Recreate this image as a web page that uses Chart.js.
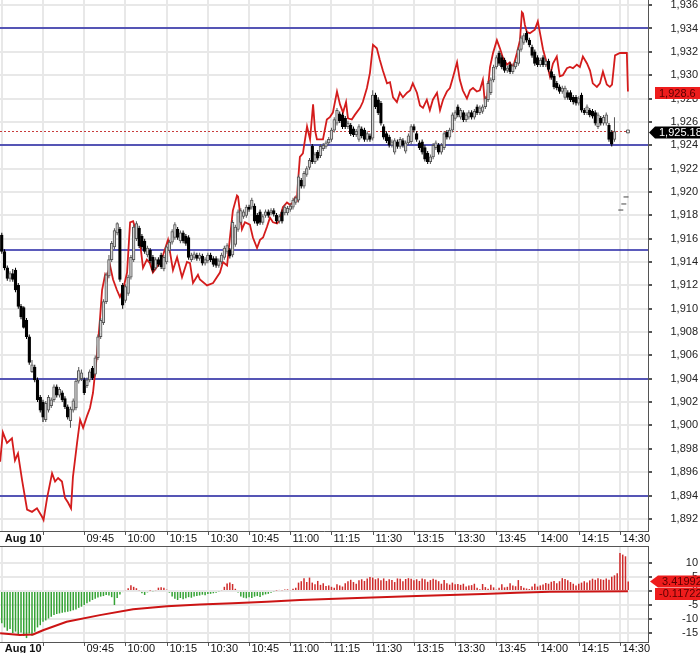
<!DOCTYPE html>
<html>
<head>
<meta charset="utf-8">
<script src="https://cdn.jsdelivr.net/npm/chart.js@4.4.0/dist/chart.umd.min.js"></script>
<style>
  html, body { margin: 0; padding: 0; background: #fff; overflow: hidden; }
  canvas { display: block; }
</style>
</head>
<body>
<canvas id="price-chart" width="700" height="546"></canvas>
<canvas id="osc-chart" width="700" height="107"></canvas>
<script>
// x values are trading minutes after 09:30 (lunch break collapsed, 13:00 = 120)
const firstMinute = -15;

// one-minute candles: [open, high, low, close]
const ohlc = [
  [1916.3,1916.5,1914.7,1914.9],[1914.9,1915.1,1913.3,1913.5],[1913.5,1913.7,1912.4,1912.6],[1912.6,1913.2,1912.3,1913.0],
  [1913.0,1913.4,1912.3,1912.5],[1913.3,1913.5,1911.4,1911.6],[1912.0,1912.2,1910.0,1910.2],[1910.2,1910.4,1909.1,1909.3],
  [1910.1,1910.2,1908.3,1908.4],[1909.0,1909.2,1907.4,1907.6],[1907.6,1907.8,1905.2,1905.4],[1904.6,1905.6,1904.5,1905.2],
  [1905.0,1905.2,1903.7,1903.9],[1903.9,1904.1,1902.0,1902.2],[1902.4,1902.6,1901.1,1901.3],
  [1902.0,1902.2,1900.3,1900.7],[1900.5,1902.1,1900.3,1901.9],[1901.3,1902.6,1901.1,1902.4],[1901.7,1902.4,1901.5,1902.2],
  [1902.2,1903.5,1902.0,1903.3],[1903.3,1903.5,1902.4,1902.6],[1902.6,1903.3,1902.4,1903.1],[1902.8,1903.0,1902.0,1902.2],
  [1902.3,1902.5,1901.4,1901.6],[1901.6,1901.8,1900.5,1900.7],[1900.4,1901.6,1899.8,1901.4],[1901.3,1902.3,1901.1,1902.1],
  [1901.5,1904.0,1901.3,1903.8],[1903.8,1905.0,1903.6,1904.7],[1904.0,1904.8,1903.8,1904.5],[1903.9,1904.1,1902.6,1902.8],
  [1903.4,1904.1,1903.2,1903.9],[1903.9,1904.8,1903.7,1904.6],[1904.9,1905.1,1903.9,1904.1],[1904.4,1906.0,1904.2,1905.8],
  [1905.8,1907.8,1905.6,1907.6],[1907.6,1909.2,1907.4,1909.0],[1908.8,1910.8,1908.6,1910.6],[1910.6,1913.1,1910.4,1912.9],
  [1912.8,1914.6,1912.6,1914.2],[1914.2,1915.8,1914.0,1915.6],[1915.3,1916.9,1915.1,1916.7],[1916.5,1917.4,1916.3,1917.3],
  [1916.8,1917.0,1912.3,1912.5],[1912.0,1912.2,1910.0,1910.3],[1910.7,1912.1,1910.5,1911.9],[1911.3,1912.9,1911.1,1912.7],
  [1912.7,1914.6,1912.5,1914.4],[1914.2,1917.2,1914.0,1917.0],[1916.0,1917.5,1915.8,1917.3],[1916.9,1917.1,1915.2,1915.4],
  [1916.2,1916.4,1915.1,1915.3],[1915.8,1916.0,1914.7,1914.9],[1914.6,1915.4,1914.4,1915.2],[1915.0,1915.2,1913.9,1914.1],
  [1914.4,1914.6,1913.1,1913.3],[1913.5,1914.4,1913.3,1914.2],[1914.2,1914.4,1913.6,1913.8],[1914.6,1914.8,1913.4,1913.6],
  [1913.4,1914.6,1913.2,1914.4],[1914.0,1915.5,1913.8,1915.3],[1915.0,1915.9,1914.8,1915.7],[1915.7,1916.8,1915.5,1916.6],
  [1916.1,1917.4,1915.9,1917.2],[1916.8,1917.0,1915.9,1916.1],[1915.8,1916.7,1915.6,1916.5],[1916.5,1916.7,1915.6,1915.8],
  [1916.2,1916.4,1915.4,1915.6],[1916.1,1916.3,1914.2,1914.4],[1914.2,1914.8,1914.0,1914.6],[1914.4,1914.9,1914.2,1914.7],
  [1914.6,1914.8,1914.1,1914.3],[1914.3,1914.8,1914.1,1914.6],[1914.5,1914.7,1913.7,1913.9],[1913.9,1914.4,1913.7,1914.2],
  [1914.1,1914.8,1913.9,1914.6],[1914.6,1914.8,1914.0,1914.2],[1914.3,1914.5,1913.6,1913.8],[1914.3,1914.5,1913.5,1913.7],
  [1913.7,1914.3,1913.5,1914.1],[1914.0,1914.8,1913.8,1914.6],[1914.4,1915.4,1914.2,1915.2],[1914.9,1915.6,1914.7,1915.4],
  [1915.0,1915.2,1914.3,1914.5],[1914.6,1917.6,1914.4,1917.4],[1915.5,1917.2,1915.3,1917.0],[1916.8,1918.5,1916.6,1918.3],
  [1917.4,1918.6,1917.2,1918.4],[1917.9,1918.5,1917.7,1918.3],[1918.0,1918.9,1917.8,1918.7],[1918.7,1918.9,1918.3,1918.5],
  [1918.7,1919.5,1918.5,1919.3],[1918.8,1919.0,1917.3,1917.5],[1918.0,1918.2,1917.1,1917.3],[1918.3,1918.5,1917.2,1917.4],
  [1917.4,1918.1,1917.2,1917.9],[1918.0,1918.5,1917.8,1918.3],[1918.3,1918.5,1917.8,1918.0],[1918.2,1918.6,1918.0,1918.4],
  [1918.4,1918.6,1917.9,1918.1],[1918.0,1918.2,1917.3,1917.5],[1917.5,1918.1,1917.3,1917.9],[1918.3,1918.5,1917.3,1917.5],
  [1918.2,1918.9,1918.0,1918.7],[1918.2,1918.8,1918.0,1918.6],[1918.5,1919.0,1918.3,1918.8],[1918.7,1919.5,1918.5,1919.3],
  [1919.1,1919.7,1918.9,1919.5],[1919.3,1921.5,1919.1,1921.3],[1921.0,1921.2,1920.3,1920.5],[1920.5,1921.8,1920.3,1921.6],
  [1921.5,1922.2,1921.3,1922.0],[1922.1,1922.9,1921.9,1922.7],[1923.9,1924.1,1922.4,1922.6],[1922.6,1923.4,1922.4,1923.2],
  [1923.4,1923.6,1922.7,1922.9],[1923.1,1924.1,1922.9,1923.9],[1923.7,1924.2,1923.5,1924.0],[1923.9,1924.4,1923.7,1924.2],
  [1924.2,1924.7,1924.0,1924.5],[1924.5,1925.5,1924.3,1925.3],[1925.3,1926.4,1925.1,1926.2],[1925.9,1927.2,1925.7,1927.0],
  [1926.7,1926.9,1925.9,1926.1],[1926.6,1926.8,1925.4,1925.6],[1926.3,1926.5,1925.4,1925.6],[1925.6,1926.1,1925.4,1925.9],
  [1925.7,1925.9,1924.8,1925.0],[1925.4,1925.6,1924.7,1924.9],[1924.9,1925.4,1924.7,1925.2],[1924.5,1925.8,1924.3,1925.6],
  [1925.4,1925.6,1924.6,1924.8],[1925.3,1925.5,1924.3,1924.5],[1924.5,1925.2,1924.3,1925.0],[1924.8,1925.0,1924.3,1924.5],
  [1924.6,1928.7,1924.4,1928.3],[1928.3,1928.5,1927.1,1927.3],[1927.9,1928.1,1926.6,1926.8],[1927.6,1927.8,1925.7,1925.9],
  [1925.6,1925.8,1924.5,1924.7],[1925.0,1925.2,1924.2,1924.4],[1924.7,1924.9,1923.8,1924.0],[1924.0,1924.5,1923.8,1924.3],
  [1923.4,1924.6,1923.2,1924.4],[1924.3,1924.5,1923.7,1923.9],[1923.9,1924.7,1923.7,1924.5],[1924.4,1924.6,1923.8,1924.0],
  [1923.5,1924.4,1923.3,1924.2],[1924.2,1925.0,1924.0,1924.8],[1924.3,1925.8,1924.1,1925.6],[1925.6,1925.8,1925.1,1925.3],
  [1925.0,1925.2,1924.3,1924.5],[1924.2,1924.4,1923.6,1923.8],[1924.3,1924.5,1923.2,1923.4],[1923.8,1924.0,1922.6,1922.8],
  [1923.3,1923.5,1922.4,1922.6],[1922.6,1923.2,1922.4,1923.0],[1923.0,1924.2,1922.8,1924.0],[1923.8,1924.4,1923.6,1924.2],
  [1924.0,1924.2,1923.2,1923.4],[1923.4,1924.2,1923.2,1924.0],[1923.8,1925.2,1923.6,1925.0],[1925.1,1925.3,1924.5,1924.7],
  [1924.7,1925.5,1924.5,1925.3],[1925.3,1926.8,1925.1,1926.6],[1926.3,1927.0,1926.1,1926.8],[1927.3,1927.5,1926.4,1926.6],
  [1926.4,1927.2,1926.2,1927.0],[1926.8,1927.0,1926.0,1926.2],[1926.2,1926.8,1926.0,1926.6],[1926.4,1927.0,1926.2,1926.8],
  [1926.8,1927.0,1926.2,1926.4],[1926.4,1927.1,1926.2,1926.9],[1927.3,1927.5,1926.6,1926.8],[1926.8,1927.4,1926.6,1927.2],
  [1926.9,1927.5,1926.7,1927.3],[1927.3,1928.2,1927.1,1928.0],[1927.9,1929.5,1927.7,1929.3],[1928.5,1929.8,1928.3,1929.6],
  [1929.6,1930.9,1929.4,1930.7],[1930.7,1931.7,1930.5,1931.5],[1931.9,1932.1,1930.8,1931.0],[1931.5,1931.7,1930.5,1930.7],
  [1931.3,1931.5,1930.2,1930.4],[1930.4,1930.8,1930.2,1930.6],[1930.9,1931.1,1930.1,1930.3],[1930.3,1931.0,1930.1,1930.8],
  [1930.7,1931.3,1930.5,1931.1],[1931.0,1932.4,1930.8,1932.2],[1932.2,1933.4,1932.0,1933.2],[1932.8,1933.6,1932.6,1933.4],
  [1933.6,1933.8,1932.8,1933.0],[1933.0,1933.2,1932.4,1932.6],[1932.4,1932.6,1931.5,1931.7],[1932.0,1932.2,1930.8,1931.0],
  [1931.5,1931.7,1930.7,1930.9],[1930.9,1931.5,1930.7,1931.3],[1931.5,1931.7,1930.7,1930.9],[1930.9,1931.4,1930.7,1931.2],
  [1931.2,1931.4,1930.3,1930.5],[1930.3,1930.5,1929.6,1929.8],[1929.9,1930.1,1928.8,1929.0],[1929.3,1929.5,1928.7,1928.9],
  [1929.0,1929.2,1928.4,1928.6],[1928.6,1929.1,1928.4,1928.9],[1928.1,1929.1,1927.9,1928.9],[1928.5,1928.7,1927.9,1928.1],
  [1928.5,1928.7,1927.7,1927.9],[1928.1,1928.3,1927.5,1927.7],[1928.1,1928.3,1927.4,1927.6],[1927.6,1928.2,1927.4,1928.0],
  [1928.3,1928.5,1926.8,1927.0],[1927.0,1927.2,1926.6,1926.8],[1926.8,1927.5,1926.6,1927.3],[1927.0,1927.2,1926.4,1926.6],
  [1926.9,1927.1,1926.3,1926.5],[1926.8,1927.0,1925.7,1925.9],[1925.6,1926.8,1925.4,1926.6],[1926.3,1926.5,1925.7,1925.9],
  [1925.9,1926.6,1925.7,1926.4],[1925.9,1926.8,1925.7,1926.6],[1925.7,1925.9,1924.3,1924.5],[1925.1,1925.3,1923.9,1924.1],
  [1924.5,1926.4,1924.3,1925.18]
];

// second instrument drawn over the candles: [minute, price]
const redLine = [
  [-15.6,1896.9],[-14.6,1899.4],[-13.1,1898.5],[-11.3,1898.9],[-10.2,1897.0],[-9.1,1897.6],[-7.6,1895.3],[-5.8,1892.8],
  [-4.0,1892.6],[-2.2,1892.9],[-0.4,1892.2],[0.2,1891.9],[1.5,1893.8],[3.3,1895.9],[4.4,1895.2],[5.5,1895.5],[6.9,1895.2],
  [8.0,1893.8],[9.1,1893.4],[10.2,1892.9],[10.9,1895.6],[12.4,1898.5],[13.5,1900.5],[14.6,1899.8],[16.0,1900.8],[17.1,1901.5],
  [18.2,1902.8],[19.7,1906.2],[20.7,1909.0],[21.5,1911.6],[22.6,1912.9],[23.3,1912.5],[23.7,1913.1],[24.4,1913.7],[25.5,1912.5],
  [26.9,1911.6],[28.0,1911.0],[29.1,1911.6],[30.6,1913.1],[31.7,1917.4],[32.8,1917.5],[34.2,1916.4],[35.3,1915.7],[36.4,1913.5],
  [37.8,1914.2],[38.9,1913.9],[40.0,1913.1],[41.5,1913.6],[42.6,1913.9],[43.7,1914.6],[45.5,1915.9],[47.3,1913.3],[48.8,1914.4],
  [50.6,1912.7],[52.4,1914.0],[53.5,1913.9],[54.6,1912.2],[56.4,1912.9],[57.1,1912.5],[59.7,1912.0],[61.9,1912.2],[64.4,1913.1],
  [65.5,1914.0],[67.0,1913.7],[68.0,1916.0],[69.1,1918.4],[70.6,1919.7],[71.0,1919.6],[72.4,1916.8],[73.5,1917.4],[75.3,1917.2],
  [76.4,1916.1],[77.9,1915.2],[79.0,1915.9],[80.1,1916.1],[81.5,1917.0],[82.6,1917.8],[83.7,1917.4],[85.2,1917.3],[86.2,1917.6],
  [87.3,1918.7],[88.8,1919.1],[89.9,1918.9],[91.0,1919.1],[91.7,1919.5],[92.4,1919.3],[92.8,1920.8],[93.5,1923.0],[94.6,1923.3],
  [96.1,1925.6],[97.2,1924.5],[98.3,1927.5],[99.0,1925.3],[99.7,1924.5],[101.9,1924.5],[103.3,1926.2],[104.4,1926.4],
  [105.5,1926.8],[107.0,1928.6],[108.1,1927.5],[109.2,1926.8],[110.3,1927.7],[111.0,1926.3],[112.4,1926.2],[113.5,1926.6],
  [115.4,1927.2],[116.4,1927.7],[117.9,1928.9],[119.0,1930.2],[120.1,1932.6],[121.5,1932.3],[122.6,1931.3],[123.7,1930.4],
  [125.2,1929.3],[126.3,1929.4],[127.4,1928.1],[128.8,1927.7],[129.9,1928.5],[131.0,1928.1],[132.5,1928.5],[133.6,1928.7],
  [134.6,1929.3],[136.1,1928.5],[137.2,1927.4],[138.3,1927.2],[139.7,1927.9],[140.8,1927.0],[141.9,1927.9],[143.4,1928.5],
  [144.5,1927.0],[145.6,1927.9],[147.0,1928.6],[148.1,1928.9],[149.2,1929.8],[150.7,1931.1],[151.7,1929.6],[152.8,1928.7],
  [154.3,1928.0],[155.4,1928.7],[156.5,1928.9],[157.9,1928.6],[159.0,1928.7],[160.1,1929.6],[160.8,1927.7],[161.6,1928.1],
  [162.7,1930.7],[163.8,1931.9],[165.2,1933.0],[166.3,1932.3],[167.4,1931.5],[168.9,1930.9],[169.9,1931.1],[171.0,1930.6],
  [172.5,1931.9],[173.6,1933.0],[174.3,1935.4],[174.7,1935.3],[175.4,1934.3],[176.1,1933.7],[177.2,1933.6],[179.0,1933.9],
  [180.1,1934.6],[180.9,1933.6],[182.0,1932.2],[183.4,1931.0],[184.5,1929.9],[185.6,1931.0],[187.0,1931.6],[188.1,1929.9],
  [189.2,1930.0],[190.7,1930.6],[191.8,1930.7],[192.9,1930.6],[194.3,1930.9],[195.4,1930.7],[196.5,1931.6],[198.0,1931.0],
  [199.1,1930.4],[200.1,1929.3],[201.6,1929.0],[202.7,1929.3],[203.8,1930.3],[205.2,1929.2],[206.3,1929.0],[207.1,1929.2],
  [208.2,1931.7],[210.0,1931.9],[212.5,1931.9],[212.9,1928.6]
];

// lower panel histogram, one bar per minute from firstMinute
const histValues = [
  -11.5,-13.0,-14.2,-13.6,-15.0,-14.5,-15.5,-14.8,-16.0,-16.8,-15.2,-16.0,-14.5,-13.0,-12.2,
  -11.0,-10.5,-9.8,-9.2,-8.6,-8.2,-8.0,-7.8,-7.6,-7.4,-7.2,-6.9,-6.6,-6.0,-5.6,
  -5.0,-4.4,-3.8,-3.2,-2.8,-2.3,-2.0,-1.8,-1.4,-1.6,-2.2,-5.0,-2.5,-1.2,-0.4,
  0.3,1.0,2.1,1.5,1.0,0.3,-0.8,-1.4,-0.5,0.2,-0.3,0.3,1.2,1.3,1.2,
  0.5,-0.6,-2.0,-2.8,-3.2,-2.5,-2.9,-2.6,-2.2,-2.4,-2.0,-1.8,-1.6,-1.3,-1.5,
  -1.1,-1.0,-0.8,-0.6,-0.3,0.3,1.5,2.7,3.0,2.5,0.8,-0.5,-2.0,-2.4,-2.6,
  -2.2,-2.5,-2.0,-1.8,-2.1,-1.5,-1.2,-1.0,-0.6,-0.3,0.2,0.4,0.3,0.5,0.6,
  0.3,0.8,1.2,3.0,3.5,4.6,3.2,4.8,3.0,2.4,3.6,2.2,2.8,1.8,2.0,
  1.5,1.2,2.4,2.0,1.6,2.8,3.5,4.0,3.2,2.6,3.8,4.2,3.6,4.5,5.0,
  4.8,4.2,4.6,3.8,4.5,3.6,4.2,3.9,3.2,4.5,4.4,3.5,4.3,4.6,4.4,
  3.8,4.2,3.6,4.5,4.2,3.3,3.9,4.4,4.0,3.5,2.6,3.9,2.8,2.3,3.0,
  2.4,2.5,2.2,2.6,1.6,2.0,2.1,2.6,1.2,0.6,2.5,1.4,0.8,2.2,1.3,
  0.5,1.2,2.4,1.3,1.5,2.8,2.0,1.7,3.9,1.8,1.2,0.9,0.7,1.6,2.6,
  1.6,2.0,2.3,2.9,2.6,3.3,3.6,2.8,3.5,4.6,4.3,3.8,3.2,2.6,2.0,
  2.6,3.0,3.5,3.0,3.8,4.4,4.0,4.6,4.2,4.0,4.5,4.0,5.1,5.6,6.3,
  13.6,13.0,12.4,3.4
];

// lower panel signal line: [minute, value]
const avgLine = [
  [-15.6,-15.1],[-8.4,-15.7],[-3.6,-15.5],[0,-14.0],[8.6,-11.0],[20.7,-8.6],[32.8,-6.5],[45.1,-5.4],[57.1,-4.8],
  [69.1,-4.4],[81.5,-3.8],[93.5,-3.2],[111.7,-2.6],[136.0,-1.8],[160.2,-1.1],[172.4,-0.6],[184.5,-0.25],[212.9,-0.117]
];

// horizontal levels, last values and the small dashes at the right edge
const levels = [1934, 1924, 1915, 1904, 1894];
const lastPrice = 1925.18;
const lastRed = 1928.6;
const lastHist = 3.41992;
const lastAvg = -0.11722;
const lineEnd = 212.9;
const stubs = [[210.3, 1918.45], [211.4, 1918.97], [212.2, 1919.57]];

// axes
const priceTicks = [1892, 1894, 1896, 1898, 1900, 1902, 1904, 1906, 1908, 1910, 1912, 1914,
  1916, 1918, 1920, 1922, 1924, 1926, 1928, 1930, 1932, 1934, 1936];
const oscTicks = [-15, -10, -5, 0, 5, 10];
const gridMinutes = [-15, 0, 15, 30, 45, 60, 75, 90, 105, 120, 135, 150, 165, 180, 195, 210, 213];
const labelMinutes = [0, 15, 30, 45, 60, 75, 90, 105, 120, 135, 150, 165, 180, 195, 210];
const timeLabels = ['Aug 10', '09:45', '10:00', '10:15', '10:30', '10:45', '11:00', '11:15',
  '11:30', '13:15', '13:30', '13:45', '14:00', '14:15', '14:30'];

const fontFamily = "Arial, 'Liberation Sans', sans-serif";
Chart.defaults.font.family = fontFamily;
Chart.defaults.font.size = 11;

const isUp = c => c[3] >= c[0];

// time labels in the band under each panel
function drawTimeBand(chart, offsetY) {
  const { ctx, chartArea, scales } = chart;
  ctx.save();
  ctx.strokeStyle = '#555';
  ctx.lineWidth = 1;
  ctx.fillStyle = '#111';
  ctx.textBaseline = 'middle';
  labelMinutes.forEach((m, i) => {
    const px = Math.round(scales.x.getPixelForValue(m)) + 0.5;
    ctx.beginPath();
    ctx.moveTo(px, chartArea.bottom + 1);
    ctx.lineTo(px, chartArea.bottom + 4);
    ctx.stroke();
    if (i === 0) {
      ctx.font = 'bold 11px ' + fontFamily;
      ctx.textAlign = 'right';
      ctx.fillText(timeLabels[i], px - 2, chartArea.bottom + offsetY);
    } else {
      ctx.font = '11px ' + fontFamily;
      ctx.textAlign = 'left';
      ctx.fillText(timeLabels[i], px + 2, chartArea.bottom + offsetY);
    }
  });
  ctx.restore();
}

// value tag on the right axis
function drawTag(ctx, tipX, boxX, y, h, fill, text, textColor) {
  ctx.fillStyle = fill;
  ctx.beginPath();
  ctx.moveTo(tipX, y);
  ctx.lineTo(boxX, y - h / 2);
  ctx.lineTo(700, y - h / 2);
  ctx.lineTo(700, y + h / 2);
  ctx.lineTo(boxX, y + h / 2);
  ctx.closePath();
  ctx.fill();
  ctx.fillStyle = textColor;
  ctx.font = '11px ' + fontFamily;
  ctx.textAlign = 'left';
  ctx.textBaseline = 'middle';
  ctx.fillText(text, boxX + 4, y + 0.5);
}

const priceOverlay = {
  id: 'priceOverlay',
  beforeDatasetsDraw(chart) {
    const { ctx, chartArea: a, scales: { x, y } } = chart;
    ctx.save();
    ctx.strokeStyle = '#2424a4';
    ctx.lineWidth = 1.6;
    levels.forEach(v => {
      const py = Math.round(y.getPixelForValue(v));
      ctx.beginPath();
      ctx.moveTo(a.left, py);
      ctx.lineTo(a.right, py);
      ctx.stroke();
    });
    // dotted last price line
    ctx.strokeStyle = '#c83c3c';
    ctx.lineWidth = 1;
    ctx.setLineDash([2, 2]);
    const py = Math.round(y.getPixelForValue(lastPrice)) + 0.5;
    ctx.beginPath();
    ctx.moveTo(a.left, py);
    ctx.lineTo(x.getPixelForValue(lineEnd), py);
    ctx.stroke();
    ctx.restore();
  },
  afterDraw(chart) {
    const { ctx, scales: { y } } = chart;
    drawTimeBand(chart, 7.5);
    ctx.save();
    drawTag(ctx, 655, 655, y.getPixelForValue(lastRed) + 1.5, 12, '#ee1c1c',
      lastRed.toLocaleString('en-US', { minimumFractionDigits: 1 }), '#5a0000');
    drawTag(ctx, 649, 655, y.getPixelForValue(lastPrice) + 1, 12, '#000',
      lastPrice.toLocaleString('en-US', { minimumFractionDigits: 2 }), '#fff');
    ctx.restore();
  }
};

const oscOverlay = {
  id: 'oscOverlay',
  afterDraw(chart) {
    const { ctx, chartArea: a, scales: { y } } = chart;
    // top border of the lower panel
    ctx.save();
    ctx.strokeStyle = '#555';
    ctx.lineWidth = 1;
    ctx.beginPath();
    ctx.moveTo(0, a.top + 0.5);
    ctx.lineTo(a.right, a.top + 0.5);
    ctx.stroke();
    drawTimeBand(chart, 6.5);
    const y1 = y.getPixelForValue(lastHist);
    const y2 = Math.max(y.getPixelForValue(lastAvg), y1 + 12.5);
    drawTag(ctx, 650, 658, y1, 12, '#ee1c1c', String(lastHist), '#5a0000');
    drawTag(ctx, 655, 655, y2, 12, '#ee1c1c', String(lastAvg), '#5a0000');
    ctx.restore();
  }
};

// shared x scale: minutes, grid at every quarter hour
function timeScale(bandHeight) {
  return {
    type: 'linear',
    min: -15.65,
    max: 220.2,
    offset: false,
    afterBuildTicks: s => { s.ticks = gridMinutes.map(v => ({ value: v })); },
    afterFit: s => { s.height = bandHeight; s.paddingLeft = 0; s.paddingRight = 0; },
    ticks: { display: false },
    grid: { color: '#e8e8e8', lineWidth: 2, drawTicks: false, offset: false },
    border: { display: true, color: '#555', width: 1 }
  };
}

function valueScale(min, max, ticks, format) {
  return {
    position: 'right',
    min: min,
    max: max,
    afterBuildTicks: s => { s.ticks = ticks.map(v => ({ value: v })); },
    afterFit: s => { s.width = 50; s.paddingTop = 0; s.paddingBottom = 0; },
    ticks: { crossAlign: 'far', color: '#222', font: { size: 11 }, callback: format },
    grid: { color: '#e8e8e8', lineWidth: 2, tickColor: '#555', tickLength: 4 },
    border: { color: '#555', width: 1 }
  };
}

const common = {
  responsive: false,
  animation: false,
  devicePixelRatio: 1,
  events: [],
  layout: { autoPadding: false, padding: { left: 0, right: 2, top: 0, bottom: 0 } },
  plugins: { legend: { display: false }, tooltip: { enabled: false } }
};

new Chart(document.getElementById('price-chart'), {
  type: 'bar',
  data: {
    datasets: [
      {
        type: 'scatter',
        data: stubs.map(([x, y]) => ({ x, y })),
        pointStyle: 'line',
        pointRadius: 2.5,
        borderColor: '#444',
        borderWidth: 1,
        order: 0
      },
      {
        type: 'scatter',
        data: [{ x: lineEnd, y: lastPrice }],
        pointStyle: 'rect',
        pointRadius: 2,
        borderColor: '#555',
        backgroundColor: '#fff',
        borderWidth: 1,
        order: 0
      },
      {
        // candle bodies
        type: 'bar',
        data: ohlc.map((c, i) => ({ x: firstMinute + i, y: [c[0], c[3]] })),
        backgroundColor: ohlc.map(c => isUp(c) ? '#d2d2d2' : '#000'),
        borderColor: ohlc.map(c => isUp(c) ? '#555' : '#000'),
        borderWidth: 1,
        borderSkipped: false,
        grouped: false,
        categoryPercentage: 1,
        barPercentage: 1,
        minBarLength: 1,
        order: 1
      },
      {
        // candle wicks
        type: 'bar',
        data: ohlc.map((c, i) => ({ x: firstMinute + i, y: [c[2], c[1]] })),
        backgroundColor: ohlc.map(c => isUp(c) ? '#555' : '#000'),
        grouped: false,
        maxBarThickness: 1,
        order: 2
      },
      {
        type: 'line',
        data: redLine.map(([x, y]) => ({ x, y })),
        borderColor: '#d41c1c',
        borderWidth: 1.8,
        pointRadius: 0,
        tension: 0,
        order: 3
      }
    ]
  },
  options: {
    ...common,
    scales: {
      x: timeScale(15),
      y: valueScale(1890.96, 1936.44, priceTicks, v => v.toLocaleString('en-US'))
    }
  },
  plugins: [priceOverlay]
});

new Chart(document.getElementById('osc-chart'), {
  type: 'bar',
  data: {
    datasets: [
      {
        type: 'line',
        data: avgLine.map(([x, y]) => ({ x, y })),
        borderColor: '#cc1414',
        borderWidth: 2,
        pointRadius: 0,
        tension: 0,
        order: 1
      },
      {
        type: 'bar',
        data: histValues.map((v, i) => ({ x: firstMinute + i, y: v })),
        backgroundColor: histValues.map(v => v >= 0 ? '#cf2b2b' : '#36a336'),
        grouped: false,
        categoryPercentage: 1,
        barPercentage: 0.55,
        order: 2
      }
    ]
  },
  options: {
    ...common,
    scales: {
      x: timeScale(11),
      y: valueScale(-18.2, 16.07, oscTicks, v => String(v))
    }
  },
  plugins: [oscOverlay]
});
</script>
</body>
</html>
